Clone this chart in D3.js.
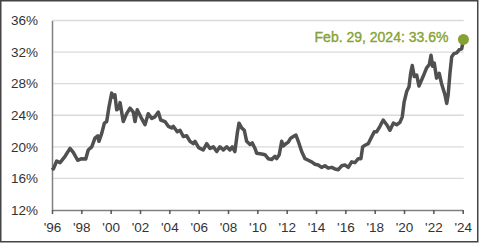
<!DOCTYPE html>
<html>
<head>
<meta charset="utf-8">
<script src="https://cdn.jsdelivr.net/npm/d3@7"></script>
<style>
  html, body { margin: 0; padding: 0; background: #fff; }
  svg text { font-family: "Liberation Sans", Arial, sans-serif; }
</style>
</head>
<body>
<div id="mainDiv"></div>
<script>
'use strict';

// data (decimal year, share in %)
var dates = [
  1996.02, 1996.09, 1996.32, 1996.55, 1996.89, 1997.23, 1997.45, 1997.75, 1998.02, 1998.30,
  1998.47, 1998.71, 1998.93, 1999.12, 1999.20, 1999.39, 1999.57, 1999.73, 1999.89, 2000.07,
  2000.18, 2000.29, 2000.41, 2000.57, 2000.64, 2000.86, 2001.09, 2001.32, 2001.54, 2001.66,
  2001.81, 2002.05, 2002.34, 2002.56, 2002.80, 2003.02, 2003.25, 2003.41, 2003.70, 2003.93,
  2004.16, 2004.27, 2004.54, 2004.73, 2004.95, 2005.18, 2005.41, 2005.63, 2005.75, 2006.00,
  2006.31, 2006.55, 2006.77, 2007.00, 2007.23, 2007.45, 2007.68, 2007.91, 2008.13, 2008.29,
  2008.47, 2008.63, 2008.75, 2008.93, 2009.11, 2009.27, 2009.50, 2009.65, 2009.84, 2009.95,
  2010.29, 2010.52, 2010.74, 2010.98, 2011.20, 2011.32, 2011.49, 2011.66, 2011.77, 2011.95,
  2012.11, 2012.27, 2012.45, 2012.63, 2012.79, 2013.02, 2013.25, 2013.47, 2013.70, 2013.93,
  2014.15, 2014.38, 2014.61, 2014.83, 2015.07, 2015.29, 2015.52, 2015.75, 2015.97, 2016.20,
  2016.43, 2016.65, 2016.88, 2017.06, 2017.18, 2017.34, 2017.56, 2017.75, 2017.97, 2018.13,
  2018.36, 2018.58, 2018.82, 2019.04, 2019.27, 2019.50, 2019.72, 2019.88, 2020.01, 2020.18,
  2020.34, 2020.45, 2020.56, 2020.70, 2020.86, 2021.02, 2021.30, 2021.54, 2021.72, 2021.84,
  2021.95, 2022.06, 2022.22, 2022.40, 2022.56, 2022.79, 2022.91, 2023.01, 2023.13, 2023.25,
  2023.40, 2023.59, 2023.76, 2023.93, 2024.00, 2024.05
];
var shares = [
  17.4, 17.2, 18.2, 18.0, 18.8, 19.8, 19.3, 18.3, 18.5, 18.45,
  19.6, 20.0, 21.1, 21.4, 20.7, 21.7, 23.0, 23.2, 25.1, 26.8,
  26.3, 26.6, 24.7, 24.9, 25.6, 23.2, 24.2, 24.9, 24.4, 23.2,
  24.7, 23.8, 22.8, 24.2, 23.6, 23.8, 24.4, 23.4, 23.2, 22.6,
  22.4, 22.6, 21.9, 22.1, 21.3, 21.4, 20.7, 20.4, 20.7, 19.9,
  19.6, 20.4, 19.8, 20.0, 19.4, 20.0, 19.6, 20.0, 19.6, 20.0,
  19.4, 21.7, 23.0, 22.4, 22.1, 20.7, 20.3, 20.5, 19.8, 19.2,
  19.1, 19.0, 18.5, 18.4, 18.8, 18.5, 19.0, 20.7, 20.1, 20.4,
  20.6, 21.1, 21.3, 21.5, 20.7, 19.4, 18.5, 18.3, 18.1, 17.8,
  17.7, 17.4, 17.6, 17.3, 17.4, 17.2, 17.1, 17.6, 17.7, 17.4,
  18.1, 18.0, 18.5, 18.5, 20.0, 20.2, 20.4, 21.1, 21.9, 21.9,
  22.6, 23.4, 22.8, 22.1, 23.0, 22.8, 23.1, 23.8, 25.7, 27.0,
  27.6, 29.3, 30.3, 28.9, 29.1, 27.7, 28.9, 30.0, 30.4, 31.6,
  30.2, 30.6, 28.7, 29.3, 28.0, 26.6, 25.5, 26.6, 29.3, 31.4,
  31.8, 31.9, 32.3, 32.4, 33.1, 33.6
];

// ticks
var yTicks = [12, 16, 20, 24, 28, 32, 36];
var xTicks = [1996, 1998, 2000, 2002, 2004, 2006, 2008, 2010, 2012, 2014, 2016, 2018, 2020, 2022, 2024];
var lastLabel = 'Feb. 29, 2024: 33.6%';

var chart = {};
chart.w = 480;
chart.h = 244;
chart.margins = {top: 20.5, bottom: 34, left: 52, right: 17.3};
chart.lineColor = '#505050';
chart.green = '#86a232';

chart.run = function()
{
    var svg = d3.select('#mainDiv').append('svg')
        .attr('width', chart.w)
        .attr('height', chart.h);

    // moldura
    svg.append('rect')
        .attr('x', 0.75).attr('y', 0.75)
        .attr('width', 477).attr('height', 241)
        .attr('fill', 'none')
        .attr('stroke', '#444')
        .attr('stroke-width', 1.5);

    var x = d3.scaleLinear()
        .domain([1996, 2024])
        .range([chart.margins.left, chart.w - chart.margins.right]);
    var y = d3.scaleLinear()
        .domain([12, 36])
        .range([chart.h - chart.margins.bottom, chart.margins.top]);

    // grid
    svg.append('g')
        .selectAll('line')
        .data(yTicks.filter(function(d){ return d > 12; }))
        .enter()
        .append('line')
        .attr('x1', x(1996)).attr('x2', x(2024) + 1)
        .attr('y1', function(d){ return y(d); })
        .attr('y2', function(d){ return y(d); })
        .attr('stroke', '#dadada')
        .attr('stroke-width', 1.3);

    // eixo y
    var yAxis = d3.axisLeft(y)
        .tickValues(yTicks)
        .tickSize(0)
        .tickPadding(14)
        .tickFormat(function(d){ return d + '%'; });
    var gy = svg.append('g')
        .attr('transform', 'translate(' + x(1996) + ',0)')
        .call(yAxis);
    gy.select('.domain').attr('stroke', '#808080').attr('stroke-width', 1.5);
    gy.selectAll('text')
        .attr('fill', '#333')
        .style('font-size', '13.5px');

    // eixo x
    var xAxis = d3.axisBottom(x)
        .tickValues(xTicks)
        .tickSize(4)
        .tickSizeOuter(0)
        .tickPadding(8)
        .tickFormat(function(d){ return "'" + String(d).slice(2); });
    var gx = svg.append('g')
        .attr('transform', 'translate(0,' + y(12) + ')')
        .call(xAxis);
    gx.select('.domain').attr('stroke', '#808080').attr('stroke-width', 1.5);
    gx.selectAll('.tick line').attr('stroke', '#555').attr('stroke-width', 1.5);
    gx.selectAll('text')
        .attr('fill', '#333')
        .style('font-size', '13.5px');

    // linha
    var data = dates.map(function(d, i){ return {t: d, v: shares[i]}; });
    var line = d3.line()
        .x(function(d){ return x(d.t); })
        .y(function(d){ return y(d.v); });

    svg.append('path')
        .datum(data)
        .attr('d', line)
        .attr('fill', 'none')
        .attr('stroke', chart.lineColor)
        .attr('stroke-width', 3.5)
        .attr('stroke-linejoin', 'round');

    // ultimo ponto
    var last = data[data.length - 1];
    svg.append('circle')
        .attr('cx', x(last.t))
        .attr('cy', y(last.v))
        .attr('r', 5.5)
        .attr('fill', chart.green);

    svg.append('text')
        .attr('x', x(last.t) - 15)
        .attr('y', y(last.v) + 2.5)
        .attr('text-anchor', 'end')
        .attr('fill', chart.green)
        .attr('stroke', chart.green)
        .attr('stroke-width', 0.35)
        .style('font-size', '14px')
        .text(lastLabel);
}

window.onload = chart.run;
</script>
</body>
</html>
